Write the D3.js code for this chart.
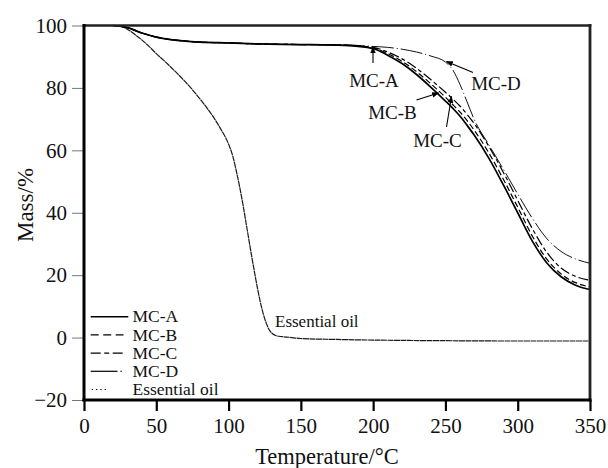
<!DOCTYPE html>
<html>
<head>
<meta charset="utf-8">
<script src="https://cdn.jsdelivr.net/npm/d3@7"></script>
<style>
  html, body { margin: 0; padding: 0; background: #fff; }
  svg { display: block; font-family: "Liberation Serif", "Times New Roman", serif; }
</style>
</head>
<body>
<svg id="chart" width="608" height="468"></svg>
<script>
// Thermogravimetric curves: mass (%) versus temperature (°C)
const xTicks = [0, 50, 100, 150, 200, 250, 300, 350];
const yTicks = [-20, 0, 20, 40, 60, 80, 100];

// Shared temperature grid for the microcapsule samples
const mcTemps = [20, 30, 40, 50, 60, 70, 80, 100, 120, 150, 180, 200, 210, 220, 230, 240, 250, 255, 260, 265, 270, 280, 290, 300, 310, 320, 330, 340, 350];
const massA = [100, 99.3, 97.6, 96.3, 95.5, 95.0, 94.7, 94.4, 94.1, 93.9, 93.6, 92.6, 90.5, 87.8, 84.3, 80.2, 75.8, 73.5, 71.0, 68.0, 64.8, 57.5, 49.0, 40.0, 31.0, 24.0, 19.5, 16.8, 15.4];
const massB = [100, 99.3, 97.6, 96.3, 95.5, 95.0, 94.7, 94.4, 94.1, 93.9, 93.7, 92.8, 91.0, 88.5, 85.2, 81.3, 77.0, 74.7, 72.3, 69.5, 66.4, 59.2, 50.8, 41.8, 32.6, 25.2, 20.4, 17.6, 16.2];
const massC = [100, 99.3, 97.6, 96.3, 95.5, 95.0, 94.7, 94.4, 94.1, 93.9, 93.7, 93.0, 91.5, 89.3, 86.3, 82.6, 78.6, 76.5, 74.2, 71.5, 68.5, 61.3, 53.0, 44.0, 35.0, 27.4, 22.3, 19.6, 18.4];
const massD = [100, 99.3, 97.6, 96.3, 95.5, 95.0, 94.7, 94.4, 94.1, 93.9, 93.8, 93.3, 93.0, 92.4, 91.5, 90.2, 88.3, 85.8, 81.2, 75.5, 69.8, 61.8, 54.0, 46.0, 38.3, 31.8, 27.6, 25.2, 23.8];

// Pure essential oil
const oilTemps = [20, 25, 30, 35, 40, 45, 50, 55, 60, 65, 70, 75, 80, 85, 90, 95, 100, 103, 106, 108, 110, 112, 114, 116, 118, 120, 122, 124, 126, 128, 130, 133, 137, 142, 150, 175, 200, 250, 300, 350];
const oilMass = [100, 99.8, 98.8, 97.2, 95.4, 93.3, 91.0, 88.9, 86.7, 84.4, 82.0, 79.4, 76.6, 73.6, 70.3, 66.5, 62.0, 58.0, 52.0, 47.5, 42.5, 37.0, 31.5, 26.0, 20.8, 15.8, 11.3, 7.6, 4.7, 2.6, 1.4, 0.6, 0.3, 0.1, -0.3, -0.6, -0.8, -1.0, -1.1, -1.1];

const seriesNames = ["MC-A", "MC-B", "MC-C", "MC-D", "Essential oil"];

const svg = d3.select("#chart");
const x = d3.scaleLinear().domain([0, 350]).range([84, 590]);
const y = d3.scaleLinear().domain([-20, 100]).range([400, 25.5]);

const series = [
  { name: seriesNames[0], t: mcTemps, m: massA, width: 1.7, dash: null, color: "#000" },
  { name: seriesNames[1], t: mcTemps, m: massB, width: 1.2, dash: "6,3", color: "#000" },
  { name: seriesNames[2], t: mcTemps, m: massC, width: 1.2, dash: "10,3,4,3", color: "#000" },
  { name: seriesNames[3], t: mcTemps, m: massD, width: 1.0, dash: "22,3,1,3", color: "#111" },
  { name: seriesNames[4], t: oilTemps, m: oilMass, width: 1.2, dash: "6,0.5", color: "#1a1a1a" }
];

const line = d3.line()
  .x(d => x(d[0]))
  .y(d => y(d[1]))
  .curve(d3.curveMonotoneX);

// Curves (oil first so the capsule curves sit on top)
const curves = svg.append("g").attr("fill", "none");
[4, 3, 2, 1, 0].forEach(i => {
  const s = series[i];
  curves.append("path")
    .datum(s.t.map((t, k) => [t, s.m[k]]))
    .attr("d", line)
    .attr("stroke", s.color)
    .attr("stroke-width", s.width)
    .attr("stroke-dasharray", s.dash);
});

// Y axis: thin grey outward ticks
const yAxis = d3.axisLeft(y).tickValues(yTicks).tickSize(12).tickPadding(5)
  .tickFormat(d => d < 0 ? "\u2212" + Math.abs(d) : d);
const gy = svg.append("g").attr("transform", "translate(84,0)").call(yAxis);
gy.select(".domain").remove();
gy.selectAll(".tick line").attr("stroke", "#777").attr("stroke-width", 1);
gy.selectAll(".tick text").attr("font-size", 21).attr("fill", "#111")
  .attr("font-family", "Liberation Serif, serif");

// X axis: heavy black outward ticks
const xAxis = d3.axisBottom(x).tickValues(xTicks).tickSize(11).tickPadding(7);
const gx = svg.append("g").attr("transform", "translate(0,400)").call(xAxis);
gx.select(".domain").remove();
gx.selectAll(".tick line").attr("stroke", "#000").attr("stroke-width", 2.2);
gx.selectAll(".tick text").attr("font-size", 21).attr("fill", "#111")
  .attr("font-family", "Liberation Serif, serif");

// Frame
const frame = svg.append("g").attr("stroke", "#000").attr("stroke-linecap", "square");
frame.append("line").attr("x1", x(0)).attr("x2", x(350)).attr("y1", y(100)).attr("y2", y(100)).attr("stroke-width", 2.6).attr("stroke", "#222");
frame.append("line").attr("x1", x(350)).attr("x2", x(350)).attr("y1", y(100)).attr("y2", y(-20)).attr("stroke-width", 2.8).attr("stroke", "#222");
frame.append("line").attr("x1", x(0)).attr("x2", x(0)).attr("y1", y(100)).attr("y2", y(-20)).attr("stroke-width", 3);
frame.append("line").attr("x1", x(0)).attr("x2", x(350)).attr("y1", y(-20)).attr("y2", y(-20)).attr("stroke-width", 3);

// Axis titles
svg.append("text")
  .attr("x", 327).attr("y", 464)
  .attr("text-anchor", "middle")
  .attr("font-size", 22.5).attr("fill", "#111")
  .text("Temperature/\u00B0C");
svg.append("text")
  .attr("transform", "translate(33,205) rotate(-90)")
  .attr("text-anchor", "middle")
  .attr("font-size", 23).attr("fill", "#111")
  .text("Mass/%");

// Legend
const legend = svg.append("g");
series.forEach((s, i) => {
  const base = 322.3 + i * 18.2;
  const ly = base - 5.6;
  if (i === 3) {
    legend.append("line").attr("x1", 90.7).attr("x2", 117.5).attr("y1", ly).attr("y2", ly)
      .attr("stroke", "#000").attr("stroke-width", 1.2);
    legend.append("line").attr("x1", 120.5).attr("x2", 121.7).attr("y1", ly).attr("y2", ly)
      .attr("stroke", "#000").attr("stroke-width", 1.2);
  } else if (i === 4) {
    legend.append("line").attr("x1", 91.7).attr("x2", 108.5).attr("y1", ly).attr("y2", ly)
      .attr("stroke", "#000").attr("stroke-width", 1.1).attr("stroke-dasharray", "1.3,3");
  } else {
    const dash = i === 1 ? "8,4.5" : (i === 2 ? "10,3.5,5,3.5" : null);
    legend.append("line").attr("x1", 90.7).attr("x2", i === 0 ? 128.3 : 123.5).attr("y1", ly).attr("y2", ly)
      .attr("stroke", "#000").attr("stroke-width", i === 0 ? 1.5 : 1.4)
      .attr("stroke-dasharray", dash);
  }
  legend.append("text")
    .attr("x", 132.5).attr("y", base)
    .attr("font-size", 17.5).attr("fill", "#111")
    .text(s.name);
});

// Curve annotations with arrows
svg.append("defs").append("marker")
  .attr("id", "arrowhead")
  .attr("viewBox", "0 0 10 10")
  .attr("refX", 9).attr("refY", 5)
  .attr("markerWidth", 7).attr("markerHeight", 7)
  .attr("markerUnits", "userSpaceOnUse")
  .attr("orient", "auto")
  .append("path").attr("d", "M0,1 L10,5 L0,9 Z").attr("fill", "#000");

const notes = [
  { label: seriesNames[0], tx: 374, ty: 87, from: [373, 63], to: [373, 47] },
  { label: seriesNames[3], tx: 496, ty: 89.5, from: [473, 72.5], to: [446.5, 61.5] },
  { label: seriesNames[1], tx: 392.5, ty: 118.5, from: [416.5, 100], to: [438.5, 93] },
  { label: seriesNames[2], tx: 437.5, ty: 147, from: [446.5, 127], to: [451.5, 96.5] }
];
notes.forEach(n => {
  svg.append("line")
    .attr("x1", n.from[0]).attr("y1", n.from[1])
    .attr("x2", n.to[0]).attr("y2", n.to[1])
    .attr("stroke", "#000").attr("stroke-width", 1.1)
    .attr("marker-end", "url(#arrowhead)");
  svg.append("text")
    .attr("x", n.tx).attr("y", n.ty)
    .attr("text-anchor", "middle")
    .attr("font-size", 19).attr("fill", "#111")
    .text(n.label);
});

svg.append("text")
  .attr("x", 275).attr("y", 327)
  .attr("font-size", 17).attr("fill", "#111")
  .text(seriesNames[4]);
</script>
</body>
</html>
